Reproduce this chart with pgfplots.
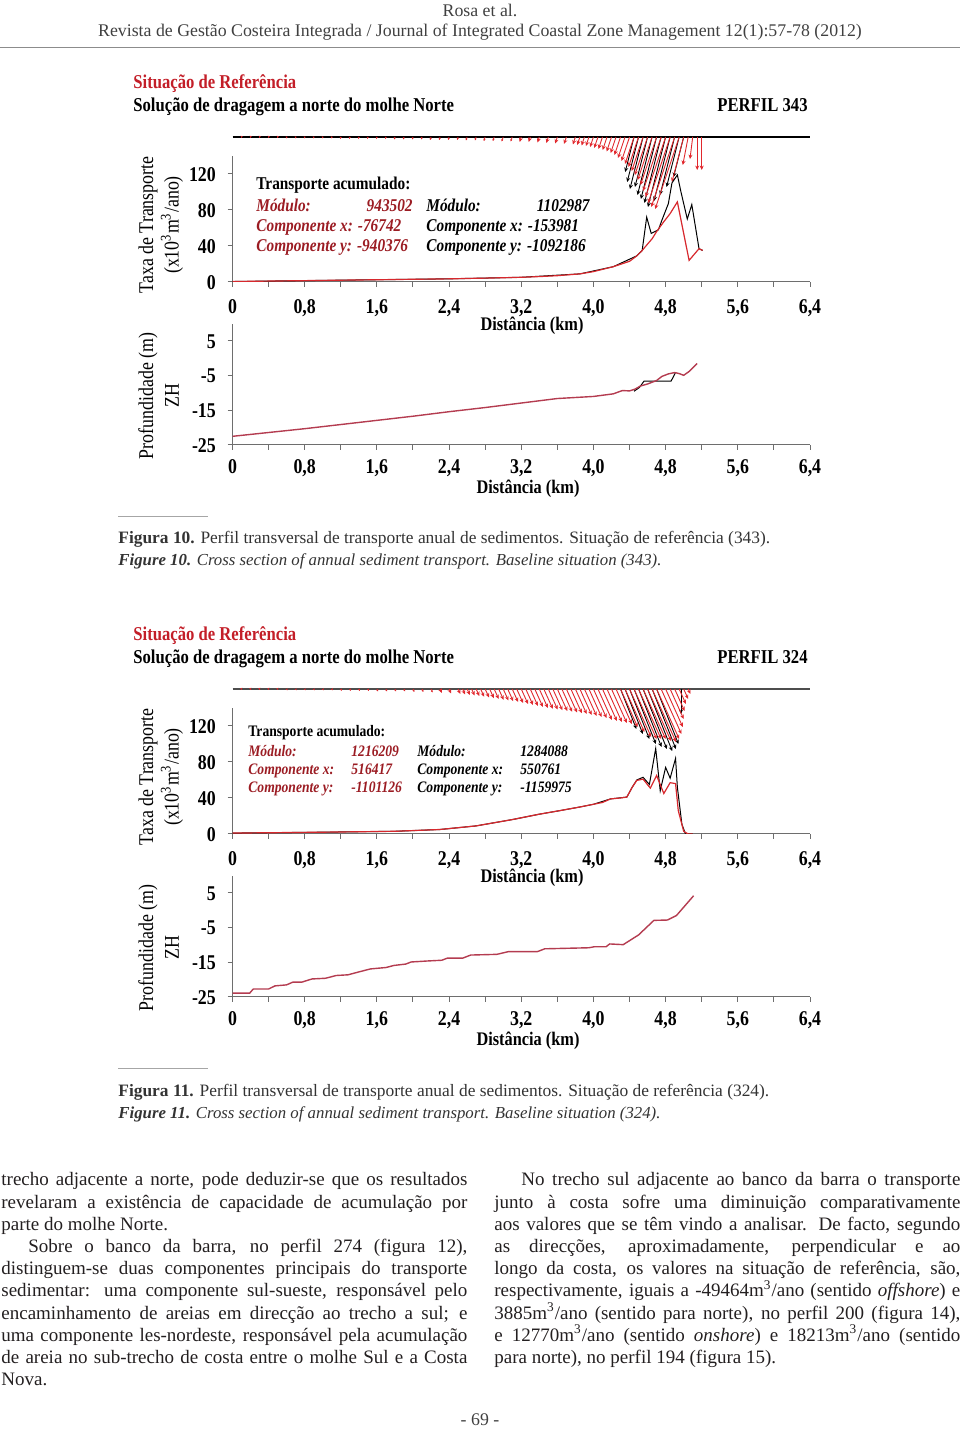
\documentclass[border=0pt]{standalone}
\usepackage{fontspec}
\setmainfont{Liberation Serif}
\newfontfamily\cf[FakeStretch=0.85]{Liberation Serif}
\usepackage{pgfplots}
\pgfplotsset{compat=1.18}
\usetikzlibrary{arrows.meta}

\definecolor{axgray}{RGB}{110,110,110}
\definecolor{cTitle}{RGB}{195,30,40}
\definecolor{cLeg}{RGB}{155,28,35}
\definecolor{cCurve}{RGB}{215,40,45}
\definecolor{cArrow}{RGB}{225,40,45}
\definecolor{cBathy}{RGB}{180,60,80}
\definecolor{txt}{RGB}{35,31,32}

\newcommand\tkfont{\fontsize{10.5}{12}\selectfont\cf\bfseries}
\newcommand\ttlfont{\fontsize{9.8}{11}\selectfont\cf\bfseries}
\newcommand\lgfont{\fontsize{9}{10}\selectfont\cf\bfseries}
\newcommand\lgfontb{\fontsize{8}{9}\selectfont\cf\bfseries}
\newcommand\ylfont{\fontsize{10.5}{12}\selectfont\cf}
\newcommand\xlfont{\fontsize{9.6}{11}\selectfont\cf\bfseries}
\newcommand\capfont{\fontsize{8.7}{10}\selectfont}
\newcommand\capfonti{\fontsize{8.4}{10}\selectfont}
\newcommand\hdrfont{\fontsize{8.9}{10}\selectfont}
\newcommand\bodyfont{\fontsize{9.5}{11.1}\selectfont}

\pgfplotsset{
  prof/.style={scale only axis, width=288.75pt, xmin=0, xmax=6.4,
    axis x line=bottom, axis y line=left,
    axis line style={-, draw=axgray, line width=0.5pt},
    tick align=outside, major tick length=2.5pt,
    tick style={draw=axgray, line width=0.5pt},
    xtick={0,0.4,0.8,1.2,1.6,2.0,2.4,2.8,3.2,3.6,4.0,4.4,4.8,5.2,5.6,6.0,6.4},
    xticklabels={0,,{0,8},,{1,6},,{2,4},,{3,2},,{4,0},,{4,8},,{5,6},,{6,4}},
    tick label style={font=\tkfont},
    yticklabel style={anchor=base east, xshift=-2.3pt, yshift=-3.6pt},
  },
  vec/.style={scale only axis, width=288.75pt, height=75pt, xmin=0, xmax=6.4,
    ymin=-150, ymax=0, hide axis, clip=false},
  arrR/.style={cArrow, line width=0.45pt, -{Stealth[length=2.2pt,width=2pt]},
    quiver={u=\thisrow{u},v=\thisrow{v}}},
  arrS/.style={cArrow, line width=0.4pt, -{Stealth[length=1.1pt,width=1.1pt]},
    quiver={u=\thisrow{u},v=\thisrow{v}}},
  arrB/.style={black, line width=0.45pt, -{Stealth[length=2.2pt,width=2pt]},
    quiver={u=\thisrow{u},v=\thisrow{v}}},
}

\begin{document}
\begin{tikzpicture}
\useasboundingbox (0,0) rectangle (480pt,714.5pt);

% ---------------- Figura 10 ----------------
\begin{axis}[vec, at={(116.25pt,571pt)}, anchor=south west]
\addplot[black, line width=0.8pt] coordinates {(0,0) (6.4,0)};
\addplot[arrS] table[x=x, y expr=0] {
x u v
0.1 -0.004 -1
0.2 -0.004 -1
0.3 -0.004 -1
0.4 -0.004 -1
0.5 -0.004 -1
0.6 -0.006 -1.5
0.7 -0.006 -1.5
0.8 -0.006 -1.5
0.9 -0.006 -1.5
1.0 -0.006 -1.5
1.1 -0.006 -1.5
1.2 -0.007 -2
1.3 -0.007 -2
1.4 -0.007 -2
1.5 -0.007 -2
1.6 -0.007 -2
1.7 -0.007 -2
1.8 -0.009 -2.5
1.9 -0.009 -2.5
2.0 -0.009 -2.5
2.1 -0.009 -2.5
2.2 -0.011 -3
2.3 -0.011 -3
2.4 -0.011 -3
2.5 -0.011 -3
2.6 -0.013 -3.5
2.7 -0.013 -3.5
2.8 -0.015 -4
2.9 -0.015 -4
3.0 -0.017 -4.5
3.1 -0.017 -4.5
};
\addplot[arrB] table[x=x, y expr=0] {
x u v
4.45 -0.098 -35
4.50 -0.126 -45
4.55 -0.146 -52
4.60 -0.140 -50
4.65 -0.162 -58
4.70 -0.174 -62
4.75 -0.185 -66
4.80 -0.196 -70
4.85 -0.179 -64
4.90 -0.162 -58
4.95 -0.140 -50
5.00 -0.112 -40
};
\addplot[arrR] table[x=x, y expr=0] {
x u v
3.2 -0.018 -5
3.3 -0.018 -5
3.4 -0.020 -5.5
3.5 -0.022 -6
3.6 -0.024 -6.5
3.7 -0.026 -7
3.8 -0.028 -7.5
3.85 -0.030 -8
3.9 -0.031 -8.5
3.95 -0.033 -9
4.0 -0.037 -10
4.05 -0.041 -11
4.10 -0.044 -12
4.15 -0.048 -13
4.20 -0.053 -14.5
4.25 -0.059 -16
4.30 -0.067 -18
4.35 -0.078 -21
4.40 -0.089 -24
4.45 -0.100 -27
4.50 -0.111 -30
4.55 -0.126 -34
4.60 -0.141 -38
4.65 -0.159 -43
4.70 -0.178 -48
4.75 -0.200 -54
4.80 -0.222 -60
4.85 -0.244 -66
4.90 -0.259 -70
4.95 -0.266 -72
5.00 -0.130 -45
5.05 -0.060 -28
5.10 -0.030 -22
5.15 0 -33
5.20 0 -33
};
\end{axis}

\begin{axis}[prof, at={(116.25pt,573.5pt)}, anchor=south west, height=63pt,
  ymin=0, ymax=140, ytick={0,40,80,120}, yticklabels={0,40,80,120},
  xticklabel style={anchor=base, yshift=-13.5pt}]
\addplot[black, line width=0.5pt] table {
x y
0 0.5
0.8 1.5
1.6 2.5
2.4 3.5
3.2 5.2
3.85 9
4.22 17
4.48 29
4.54 35
4.59 72
4.64 54
4.72 58
4.76 69
4.83 87
4.87 110
4.93 119
4.97 100
5.04 70
5.09 86
5.17 37
5.21 35
};
\addplot[cCurve, line width=0.6pt] table {
x y
0 0.5
0.4 1
0.8 1.5
1.2 2
1.6 2.5
2.0 3
2.4 3.5
2.8 4.3
3.2 5.2
3.4 6
3.6 7
3.85 9
4.0 11.5
4.22 17
4.4 23
4.48 29
4.54 35
4.59 41
4.65 48
4.7 56
4.78 67
4.85 76
4.93 89
5.06 24
5.17 37
5.21 35
};
\end{axis}

\begin{axis}[prof, at={(116.25pt,492pt)}, anchor=south west, height=60.67pt,
  ymin=-25, ymax=10, ytick={-25,-15,-5,5}, yticklabels={-25,-15,-5,5},
  xticklabel style={anchor=base, yshift=-12pt}]
\addplot[black, line width=0.5pt] table {
x y
4.45 -9.5
4.51 -8.4
4.56 -6.6
4.86 -6.6
4.91 -4.1
};
\addplot[cBathy, line width=0.7pt] table {
x y
0 -22.5
0.4 -21.4
0.8 -20.3
1.2 -19.1
1.6 -17.9
2.0 -16.7
2.4 -15.4
2.8 -14.2
3.2 -12.9
3.6 -11.6
4.0 -11.0
4.22 -10.25
4.32 -9.3
4.4 -9.4
4.46 -8.9
4.52 -8.0
4.6 -7.4
4.7 -6.4
4.76 -5.2
4.83 -4.5
4.9 -4.1
4.95 -4.4
5.0 -4.9
5.06 -3.8
5.15 -1.5
};
\end{axis}

% ---------------- Figura 11 ----------------
\begin{axis}[vec, at={(116.25pt,295pt)}, anchor=south west]
\addplot[axgray!70!black, line width=0.8pt] coordinates {(0,0) (6.4,0)};
\addplot[arrS] table[x=x, y expr=0] {
x u v
0.1 0.005 -1
0.2 0.005 -1
0.3 0.005 -1
0.4 0.005 -1
0.5 0.005 -1
0.6 0.008 -1.5
0.7 0.008 -1.5
0.8 0.008 -1.5
0.9 0.008 -1.5
1.0 0.008 -1.5
1.1 0.008 -1.5
1.2 0.010 -2
1.3 0.010 -2
1.4 0.010 -2
1.5 0.010 -2
1.6 0.013 -2.5
1.7 0.013 -2.5
1.8 0.013 -2.5
1.9 0.013 -2.5
2.0 0.015 -3
2.1 0.015 -3
2.2 0.018 -3.5
};
\addplot[arrB] table[x=x, y expr=0] {
x u v
4.30 0.176 -40
4.35 0.198 -45
4.40 0.220 -50
4.45 0.242 -55
4.50 0.255 -58
4.55 0.264 -60
4.60 0.273 -62
4.65 0.264 -60
4.70 0.242 -55
4.97 0 -25
};
\addplot[arrR] table[x=x, y expr=0] {
x u v
2.3 0.020 -4
2.4 0.023 -4.5
2.5 0.025 -5
2.55 0.028 -5.5
2.6 0.030 -6
2.65 0.033 -6.5
2.7 0.035 -7
2.75 0.039 -7.8
2.8 0.043 -8.5
2.85 0.046 -9.2
2.9 0.050 -10
2.95 0.054 -10.8
3.0 0.058 -11.5
3.05 0.061 -12.2
3.1 0.065 -13
3.15 0.070 -14
3.2 0.075 -15
3.25 0.080 -16
3.3 0.085 -17
3.35 0.090 -18
3.4 0.095 -19
3.45 0.099 -19.8
3.5 0.103 -20.5
3.55 0.106 -21.2
3.6 0.110 -22
3.65 0.114 -22.8
3.7 0.118 -23.5
3.75 0.121 -24.2
3.8 0.125 -25
3.85 0.130 -26
3.9 0.135 -27
3.95 0.140 -28
4.0 0.145 -29
4.05 0.155 -31
4.1 0.160 -32
4.15 0.165 -33
4.2 0.170 -34
4.25 0.175 -35
4.3 0.190 -38
4.35 0.215 -43
4.4 0.240 -48
4.45 0.250 -50
4.5 0.250 -50
4.55 0.250 -50
4.6 0.260 -52
4.65 0.265 -53
4.7 0.250 -50
4.75 0.225 -45
4.8 0.190 -38
4.85 0.150 -30
4.9 0.110 -22
4.95 0.075 -15
5.0 0.050 -10
5.05 0.025 -5
};
\end{axis}

\begin{axis}[prof, at={(116.25pt,297.5pt)}, anchor=south west, height=63pt,
  ymin=0, ymax=140, ytick={0,40,80,120}, yticklabels={0,40,80,120},
  xticklabel style={anchor=base, yshift=-13.5pt}]
\addplot[black, line width=0.5pt] table {
x y
0 1
1.0 2
1.8 3
2.3 5
2.7 9
3.1 16
3.4 22
3.63 26
3.85 30
4.0 33
4.19 39
4.37 41
4.43 52
4.48 60
4.55 63
4.62 55
4.69 95
4.74 48
4.8 74
4.85 62
4.91 84
4.93 52
4.98 11
5.02 0
5.1 0
};
\addplot[cCurve, line width=0.6pt] table {
x y
0 1
1.0 2
1.8 3
2.3 5
2.7 9
3.1 16
3.4 22
3.63 26
3.85 30
4.0 33
4.1 35
4.19 39
4.3 40
4.37 41
4.43 52
4.48 59.5
4.55 61
4.63 51
4.7 65
4.78 45
4.85 57
4.91 56
4.94 26
5.0 3
5.05 0
5.1 0
};
\end{axis}

\begin{axis}[prof, at={(116.25pt,216pt)}, anchor=south west, height=60.67pt,
  ymin=-25, ymax=10, ytick={-25,-15,-5,5}, yticklabels={-25,-15,-5,5},
  xticklabel style={anchor=base, yshift=-12pt}]
\addplot[cBathy, line width=0.7pt] table {
x y
0 -23.9
0.19 -23.9
0.23 -22.7
0.4 -22.7
0.47 -21.8
0.6 -21.5
0.67 -20.7
0.77 -20.7
0.88 -19.8
1.03 -19.6
1.15 -18.8
1.28 -18.6
1.41 -17.7
1.53 -16.9
1.7 -16.5
1.79 -15.9
1.92 -15.5
1.98 -14.9
2.17 -14.6
2.32 -14.4
2.38 -13.8
2.55 -13.8
2.64 -12.9
2.93 -12.7
3.06 -11.9
3.38 -11.9
3.46 -11.1
3.95 -10.8
4.01 -10.5
4.14 -10.5
4.18 -9.7
4.33 -9.9
4.5 -7.1
4.67 -2.9
4.82 -2.8
4.92 -1.5
5.11 4.2
};
\end{axis}

% ---------------- textos ----------------
\begin{scope}[x=0.5pt, y=-0.5pt, shift={(0,714.5pt)}, every node/.style={inner sep=0pt}]
\node[font=\hdrfont, text=black!75] at (480,10) {Rosa et al.};
\node[font=\hdrfont, text=black!75] at (480,32) {Revista de Gestão Costeira Integrada / Journal of Integrated Coastal Zone Management 12(1):57-78 (2012)};
\draw[black!45, line width=0.4pt] (0,47) -- (960,47);

% Fig 10
\node[anchor=base west, font=\ttlfont, text=cTitle] at (133,88.5) {Situação de Referência};
\node[anchor=base west, font=\ttlfont] at (133,111.5) {Solução de dragagem a norte do molhe Norte};
\node[anchor=base east, font=\ttlfont] at (808,111.5) {PERFIL 343};
\node[anchor=base west, font=\lgfont] at (256,190) {Transporte acumulado:};
\node[anchor=base west, font=\lgfont\itshape, text=cLeg] at (256,212) {Módulo:};
\node[anchor=base east, font=\lgfont\itshape, text=cLeg] at (413,212) {943502};
\node[anchor=base west, font=\lgfont\itshape] at (426,212) {Módulo:};
\node[anchor=base east, font=\lgfont\itshape] at (590,212) {1102987};
\node[anchor=base west, font=\lgfont\itshape, text=cLeg] at (256,232) {Componente x: -76742};
\node[anchor=base west, font=\lgfont\itshape] at (426,232) {Componente x: -153981};
\node[anchor=base west, font=\lgfont\itshape, text=cLeg] at (256,252) {Componente y: -940376};
\node[anchor=base west, font=\lgfont\itshape] at (426,252) {Componente y: -1092186};
\node[rotate=90, font=\ylfont] at (148,225) {Taxa de Transporte};
\node[rotate=90, font=\ylfont] at (172,225) {(x10\textsuperscript{3}m\textsuperscript{3}/ano)};
\node[rotate=90, font=\ylfont] at (148,396) {Profundidade (m)};
\node[rotate=90, font=\ylfont] at (172,396) {ZH};
\node[font=\xlfont] at (532,326) {Distância (km)};
\node[font=\xlfont] at (528,489) {Distância (km)};
\draw[black!35, line width=0.4pt] (118,516) -- (208,516);
\node[anchor=base west, font=\capfont, text=black!80] at (118,544) {\textbf{Figura 10.} Perfil transversal de transporte anual de sedimentos. Situação de referência (343).};
\node[anchor=base west, font=\capfonti, text=black!80] at (118,566) {\textit{\textbf{Figure 10.} Cross section of annual sediment transport. Baseline situation (343).}};

% Fig 11
\node[anchor=base west, font=\ttlfont, text=cTitle] at (133,640.5) {Situação de Referência};
\node[anchor=base west, font=\ttlfont] at (133,663.5) {Solução de dragagem a norte do molhe Norte};
\node[anchor=base east, font=\ttlfont] at (808,663.5) {PERFIL 324};
\node[anchor=base west, font=\lgfontb] at (248,737) {Transporte acumulado:};
\node[anchor=base west, font=\lgfontb\itshape, text=cLeg] at (248,757) {Módulo:};
\node[anchor=base west, font=\lgfontb\itshape, text=cLeg] at (351,757) {1216209};
\node[anchor=base west, font=\lgfontb\itshape] at (417,757) {Módulo:};
\node[anchor=base west, font=\lgfontb\itshape] at (520,757) {1284088};
\node[anchor=base west, font=\lgfontb\itshape, text=cLeg] at (248,775) {Componente x:};
\node[anchor=base west, font=\lgfontb\itshape, text=cLeg] at (351,775) {516417};
\node[anchor=base west, font=\lgfontb\itshape] at (417,775) {Componente x:};
\node[anchor=base west, font=\lgfontb\itshape] at (520,775) {550761};
\node[anchor=base west, font=\lgfontb\itshape, text=cLeg] at (248,793) {Componente y:};
\node[anchor=base west, font=\lgfontb\itshape, text=cLeg] at (351,793) {-1101126};
\node[anchor=base west, font=\lgfontb\itshape] at (417,793) {Componente y:};
\node[anchor=base west, font=\lgfontb\itshape] at (520,793) {-1159975};
\node[rotate=90, font=\ylfont] at (148,777) {Taxa de Transporte};
\node[rotate=90, font=\ylfont] at (172,777) {(x10\textsuperscript{3}m\textsuperscript{3}/ano)};
\node[rotate=90, font=\ylfont] at (148,948) {Profundidade (m)};
\node[rotate=90, font=\ylfont] at (172,948) {ZH};
\node[font=\xlfont] at (532,878) {Distância (km)};
\node[font=\xlfont] at (528,1041) {Distância (km)};
\draw[black!35, line width=0.4pt] (118,1068) -- (208,1068);
\node[anchor=base west, font=\capfont, text=black!80] at (118,1097) {\textbf{Figura 11.} Perfil transversal de transporte anual de sedimentos. Situação de referência (324).};
\node[anchor=base west, font=\capfonti, text=black!80] at (118,1119) {\textit{\textbf{Figure 11.} Cross section of annual sediment transport. Baseline situation (324).}};

% corpo do texto
\node[anchor=base west, text=txt] at (1,1186) {\parbox[t]{233pt}{\bodyfont\tolerance=9999\hyphenpenalty=10000\noindent
trecho adjacente a norte, pode deduzir-se que os resultados\linebreak
revelaram a existência de capacidade de acumulação por\linebreak
parte do molhe Norte.\par
\hspace*{13.5pt}Sobre o banco da barra, no perfil 274 (figura 12),\linebreak
distinguem-se duas componentes principais do transporte\linebreak
sedimentar: uma componente sul-sueste, responsável pelo\linebreak
encaminhamento de areias em direcção ao trecho a sul; e\linebreak
uma componente les-nordeste, responsável pela acumulação\linebreak
de areia no sub-trecho de costa entre o molhe Sul e a Costa\linebreak
Nova.}};
\node[anchor=base west, text=txt] at (494,1186) {\parbox[t]{233pt}{\bodyfont\tolerance=9999\hyphenpenalty=10000\noindent
\hspace*{13.5pt}No trecho sul adjacente ao banco da barra o transporte\linebreak
junto à costa sofre uma diminuição comparativamente\linebreak
aos valores que se têm vindo a analisar. De facto, segundo\linebreak
as direcções, aproximadamente, perpendicular e ao\linebreak
longo da costa, os valores na situação de referência, são,\linebreak
respectivamente, iguais a -49464m\textsuperscript{3}/ano (sentido \textit{offshore}) e\linebreak
3885m\textsuperscript{3}/ano (sentido para norte), no perfil 200 (figura 14),\linebreak
e 12770m\textsuperscript{3}/ano (sentido \textit{onshore}) e 18213m\textsuperscript{3}/ano (sentido\linebreak
para norte), no perfil 194 (figura 15).}};
\node[font=\hdrfont, text=black!75] at (480,1420) {- 69 -};
\end{scope}
\end{tikzpicture}
\end{document}
